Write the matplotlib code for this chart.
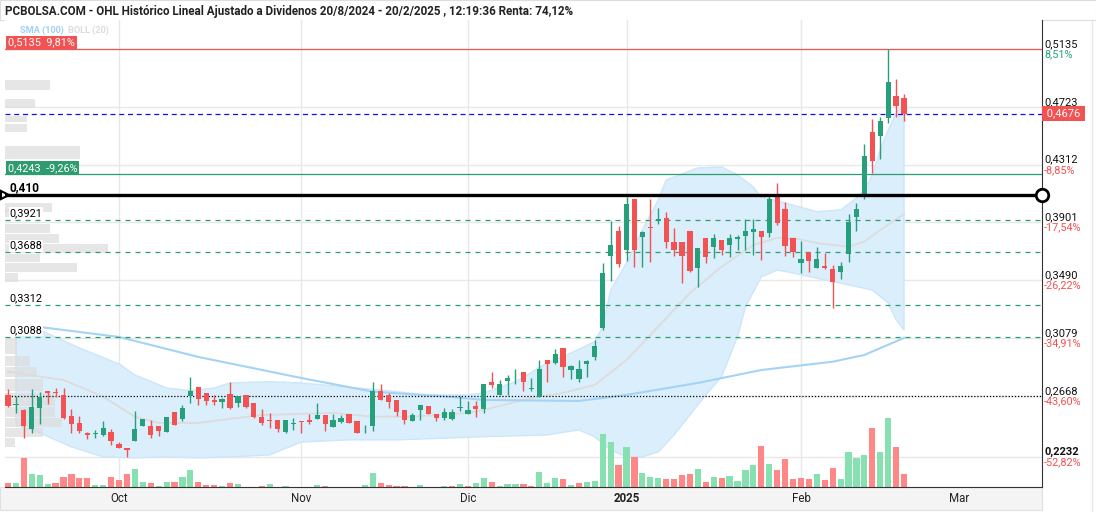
import numpy as np
import pandas as pd
import matplotlib.pyplot as plt
from matplotlib.patches import Rectangle

plt.rcParams['font.family'] = ['Roboto', 'DejaVu Sans']

# sesiones visibles 11/9/2024 - 20/2/2025
festivos = pd.to_datetime(['2024-12-25', '2024-12-26', '2025-01-01'])
fechas = pd.bdate_range('2024-09-11', '2025-02-20').drop(festivos)

opens = [0.2675, 0.2600, 0.2568, 0.2435, 0.2584, 0.2703, 0.2699, 0.2675, 0.2525, 0.2476,
         0.2404, 0.2394, 0.2390, 0.2411, 0.2326, 0.2298, 0.2348, 0.2456, 0.2454, 0.2454,
         0.2411, 0.2554, 0.2506, 0.2670, 0.2731, 0.2689, 0.2637, 0.2627, 0.2682, 0.2620,
         0.2675, 0.2618, 0.2518, 0.2497, 0.2497, 0.2411, 0.2465, 0.2490, 0.2497, 0.2504,
         0.2532, 0.2449, 0.2483, 0.2540, 0.2490, 0.2429, 0.2456, 0.2705, 0.2677, 0.2639,
         0.2568, 0.2490, 0.2568, 0.2596, 0.2540, 0.2513, 0.2504, 0.2585, 0.2542, 0.2596,
         0.2577, 0.2767, 0.2675, 0.2776, 0.2813, 0.2838, 0.2717, 0.2663, 0.2923, 0.2904,
         0.3009, 0.2854, 0.2785, 0.2897, 0.2947, 0.3153, 0.3663, 0.3841, 0.3706, 0.4068,
         0.3796, 0.3868, 0.3912, 0.3933, 0.3762, 0.3762, 0.3841, 0.3580, 0.3791, 0.3729,
         0.3777, 0.3743, 0.3784, 0.3805, 0.3836, 0.3841, 0.3829, 0.4085, 0.3997, 0.3791,
         0.3610, 0.3691, 0.3578, 0.3590, 0.3570, 0.3551, 0.3676, 0.3942, 0.4104, 0.4545,
         0.4518, 0.4646, 0.4800, 0.4786]
highs = [0.2717, 0.2667, 0.2575, 0.2717, 0.2696, 0.2705, 0.2724, 0.2724, 0.2575, 0.2525,
         0.2409, 0.2426, 0.2490, 0.2435, 0.2343, 0.2300, 0.2561, 0.2506, 0.2497, 0.2456,
         0.2520, 0.2556, 0.2606, 0.2805, 0.2733, 0.2691, 0.2672, 0.2655, 0.2767, 0.2669,
         0.2677, 0.2620, 0.2573, 0.2549, 0.2499, 0.2499, 0.2509, 0.2492, 0.2540, 0.2616,
         0.2534, 0.2540, 0.2530, 0.2542, 0.2492, 0.2461, 0.2765, 0.2751, 0.2691, 0.2641,
         0.2570, 0.2547, 0.2605, 0.2598, 0.2542, 0.2582, 0.2575, 0.2667, 0.2630, 0.2630,
         0.2755, 0.2838, 0.2781, 0.2819, 0.2857, 0.2840, 0.2795, 0.2923, 0.2925, 0.2999,
         0.3011, 0.2890, 0.2923, 0.2923, 0.3066, 0.3615, 0.3912, 0.3876, 0.4085, 0.4070,
         0.3838, 0.4068, 0.4002, 0.3978, 0.3860, 0.3764, 0.3843, 0.3722, 0.3793, 0.3819,
         0.3779, 0.3819, 0.3812, 0.3924, 0.3924, 0.3843, 0.4097, 0.4180, 0.4045, 0.3793,
         0.3766, 0.3693, 0.3725, 0.3682, 0.3597, 0.3620, 0.3961, 0.4038, 0.4457, 0.4635,
         0.4649, 0.5135, 0.4919, 0.4815]
lows = [0.2589, 0.2547, 0.2369, 0.2404, 0.2468, 0.2609, 0.2660, 0.2504, 0.2404, 0.2404,
        0.2360, 0.2369, 0.2383, 0.2317, 0.2296, 0.2232, 0.2345, 0.2452, 0.2371, 0.2385,
        0.2409, 0.2461, 0.2492, 0.2620, 0.2601, 0.2601, 0.2601, 0.2584, 0.2577, 0.2591,
        0.2584, 0.2509, 0.2463, 0.2438, 0.2411, 0.2402, 0.2426, 0.2402, 0.2466, 0.2502,
        0.2421, 0.2445, 0.2478, 0.2473, 0.2402, 0.2402, 0.2421, 0.2639, 0.2580, 0.2525,
        0.2466, 0.2488, 0.2497, 0.2536, 0.2492, 0.2493, 0.2497, 0.2559, 0.2540, 0.2516,
        0.2544, 0.2724, 0.2673, 0.2675, 0.2753, 0.2704, 0.2705, 0.2658, 0.2769, 0.2895,
        0.2805, 0.2790, 0.2767, 0.2805, 0.2920, 0.3137, 0.3487, 0.3583, 0.3629, 0.3583,
        0.3583, 0.3618, 0.3888, 0.3718, 0.3663, 0.3473, 0.3551, 0.3445, 0.3615, 0.3646,
        0.3670, 0.3658, 0.3706, 0.3706, 0.3670, 0.3634, 0.3800, 0.3883, 0.3663, 0.3654,
        0.3540, 0.3551, 0.3576, 0.3570, 0.3293, 0.3497, 0.3622, 0.3843, 0.4066, 0.4255,
        0.4353, 0.4611, 0.4653, 0.4625]
closes = [0.2598, 0.2607, 0.2456, 0.2589, 0.2660, 0.2691, 0.2689, 0.2513, 0.2470, 0.2421,
          0.2388, 0.2401, 0.2440, 0.2350, 0.2300, 0.2286, 0.2433, 0.2504, 0.2390, 0.2419,
          0.2518, 0.2463, 0.2582, 0.2703, 0.2646, 0.2634, 0.2627, 0.2646, 0.2584, 0.2667,
          0.2591, 0.2520, 0.2478, 0.2492, 0.2435, 0.2497, 0.2472, 0.2485, 0.2485, 0.2532,
          0.2465, 0.2495, 0.2511, 0.2478, 0.2407, 0.2436, 0.2705, 0.2641, 0.2625, 0.2554,
          0.2497, 0.2532, 0.2603, 0.2540, 0.2513, 0.2554, 0.2554, 0.2589, 0.2568, 0.2577,
          0.2753, 0.2748, 0.2753, 0.2795, 0.2817, 0.2769, 0.2721, 0.2859, 0.2897, 0.2966,
          0.2876, 0.2881, 0.2859, 0.2916, 0.3023, 0.3540, 0.3741, 0.3606, 0.4033, 0.3706,
          0.3836, 0.3864, 0.3926, 0.3765, 0.3706, 0.3663, 0.3558, 0.3720, 0.3658, 0.3791,
          0.3706, 0.3791, 0.3798, 0.3841, 0.3855, 0.3800, 0.4068, 0.3900, 0.3736, 0.3693,
          0.3642, 0.3629, 0.3642, 0.3580, 0.3480, 0.3592, 0.3905, 0.3997, 0.4374, 0.4340,
          0.4623, 0.4900, 0.4731, 0.4676]
# volumen (decenas de miles de titulos)
vol = [4, 3.7, 29.3, 13, 12, 3, 4, 10.3, 13, 8.7,
       8.7, 2, 2, 9.7, 6.7, 13, 17.7, 4.7, 3.7, 1,
       4.7, 5, 10, 16.7, 4.7, 2, 1.7, 1, 3.7, 2.7,
       0.5, 0.5, 1.3, 2.7, 0.5, 1, 0.5, 0.5, 0.5, 2,
       1, 0.5, 0.3, 0.5, 0.5, 2, 13.7, 4.3, 2, 1,
       1, 0.5, 1.7, 0.5, 0.3, 1, 1, 2.7, 1, 3.7,
       9, 4.7, 1, 2.7, 2.7, 2.7, 1, 14.7, 3.7, 8.7,
       7.7, 2, 3.7, 5.3, 6.3, 52.7, 44.7, 22, 40, 30.3,
       13.7, 10, 8.7, 7.7, 7.7, 12, 13, 17.7, 5, 10.3,
       8.7, 11, 5.7, 17, 22, 41, 23, 17, 28, 8,
       9.3, 8, 13, 7, 19, 8, 35, 29.3, 32, 59,
       35, 69, 40, 13]

# bandas de Bollinger (20) y SMA (100) (sesion, valor)
boll_up_i = [1, 4, 9, 14, 16, 20, 23, 26, 28, 33, 37, 41, 47, 49, 53, 58, 60, 64, 68, 71,
             74, 75, 76, 78, 80, 82, 83, 87, 90, 92, 94, 95, 98, 102, 105, 107, 108, 109,
             110, 111, 112, 113]
boll_up = [0.3151, 0.3137, 0.3009, 0.2895, 0.2817, 0.2724, 0.2705, 0.2724, 0.2760, 0.2769,
           0.2760, 0.2739, 0.2710, 0.2698, 0.2675, 0.2675, 0.2689, 0.2769, 0.2902, 0.2973,
           0.3054, 0.3160, 0.3421, 0.3613, 0.3848, 0.4061, 0.4203, 0.4289, 0.4296, 0.4239,
           0.4153, 0.4082, 0.4040, 0.3978, 0.3990, 0.4075, 0.4132, 0.4239, 0.4416, 0.4559,
           0.4680, 0.4751]
boll_lo_i = [1, 4, 8, 12, 16, 20, 24, 28, 33, 37, 43, 49, 56, 60, 68, 72, 74, 76, 78, 80,
             82, 84, 86, 88, 90, 92, 93, 95, 97, 99, 103, 106, 109, 111, 112, 113]
boll_lo = [0.2461, 0.2404, 0.2305, 0.2234, 0.2227, 0.2234, 0.2227, 0.2234, 0.2248, 0.2340,
           0.2355, 0.2355, 0.2369, 0.2378, 0.2390, 0.2426, 0.2376, 0.2283, 0.2234, 0.2234,
           0.2269, 0.2390, 0.2532, 0.2675, 0.2805, 0.3087, 0.3300, 0.3514, 0.3563, 0.3542,
           0.3492, 0.3457, 0.3421, 0.3329, 0.3208, 0.3137]
boll_mid_i = [0, 7, 12, 16, 19, 24, 32, 37, 41, 46, 51, 58, 60, 66, 70, 74, 78, 82, 86, 90,
              94, 97, 99, 102, 106, 108, 110, 113]
boll_mid = [0.2840, 0.2781, 0.2663, 0.2520, 0.2476, 0.2476, 0.2532, 0.2540, 0.2547, 0.2520,
            0.2520, 0.2547, 0.2568, 0.2653, 0.2689, 0.2746, 0.2923, 0.3160, 0.3400, 0.3587,
            0.3741, 0.3791, 0.3791, 0.3755, 0.3729, 0.3765, 0.3848, 0.3962]
sma100_i = [3, 14, 24, 37, 46, 56, 60, 72, 78, 87, 95, 104, 108, 113]
sma100 = [0.3165, 0.3087, 0.2945, 0.2795, 0.2698, 0.2660, 0.2639, 0.2632, 0.2675, 0.2760,
          0.2852, 0.2911, 0.2959, 0.3080]

# perfil de volumen por precio (precio bajo, precio alto, volumen relativo)
perfil_lo = [0.4836, 0.4715, 0.4616, 0.4545, 0.4345, 0.3940, 0.3969, 0.3826, 0.3755,
             0.3684, 0.3613, 0.3542, 0.3471, 0.2959, 0.2874, 0.2796, 0.2696, 0.2590,
             0.2511, 0.2440, 0.2369, 0.2298]
perfil_hi = [0.4921, 0.4786, 0.4658, 0.4601, 0.4452, 0.3997, 0.4040, 0.3897, 0.3826,
             0.3755, 0.3684, 0.3613, 0.3542, 0.3080, 0.2959, 0.2874, 0.2796, 0.2696,
             0.2590, 0.2511, 0.2440, 0.2369]
perfil_vol = [45, 30, 22, 22, 75, 15, 47, 45, 54, 103, 35, 72, 13, 12, 25, 32, 38, 50,
              50, 57, 38, 10]

# etiquetas del eje de precios
ticks_precio = [0.5135, 0.4723, 0.4312, 0.3901, 0.3490, 0.3079, 0.2668, 0.2232]
ticks_texto = ['0,5135', '0,4723', '0,4312', '0,3901', '0,3490', '0,3079', '0,2668', '0,2232']
ticks_pct = ['8,51%', '', '-8,85%', '-17,54%', '-26,22%', '-34,91%', '-43,60%', '-52,82%']

# niveles horizontales
niveles_verdes = [0.3921, 0.3688, 0.3312, 0.3088]
nivel_max = 0.5135
nivel_ultimo = 0.4676
nivel_verde = 0.4243
nivel_negro = 0.410
nivel_punteado = 0.2668

VERDE = '#26a07a'
ROJO = '#f25252'
VERDE_V = '#86e0b0'
ROJO_V = '#ff8787'

W, H = 1096, 512
fig = plt.figure(figsize=(W / 100, H / 100), dpi=100)
L, R, T, B = 5, 1042, 20, 487
ax = fig.add_axes([L / W, 1 - B / H, (R - L) / W, (B - T) / H])
y0, y1 = 0.2020, 0.5341
x0, x1 = -0.38, 130.4
ax.set_ylim(y0, y1)
ax.set_xlim(x0, x1)
ax.set_autoscale_on(False)
precio_px = (y1 - y0) / (B - T)
sesion_px = (x1 - x0) / (R - L)

n = len(closes)
x = np.arange(n)
o = np.array(opens); c = np.array(closes)
h = np.array(highs); lw_ = np.array(lows)
sube = c >= o

# meses
ext = pd.bdate_range('2024-09-11', '2025-03-31').drop(festivos)
ser = pd.Series(np.arange(len(ext)), index=ext)
primeros = ser.groupby([ext.year, ext.month]).first()
mes_pos = list(primeros.values[1:])
mes_txt = ['Oct', 'Nov', 'Dic', '2025', 'Feb', 'Mar']

for p in ticks_precio:
    ax.axhline(p, color='#e8e8e8', lw=1, zorder=0)
for m in mes_pos[:5]:
    ax.axvline(m, color='#e8e8e8', lw=1, zorder=0)

# Bollinger
ax.fill(np.r_[boll_up_i, boll_lo_i[::-1]], np.r_[boll_up, boll_lo[::-1]],
        color='#dbeefc', ec='#cde6fa', lw=1, zorder=1)

# perfil de volumen
for lo_, hi_, v in zip(perfil_lo, perfil_hi, perfil_vol):
    ax.barh((lo_ + hi_) / 2, v * sesion_px, height=(hi_ - lo_) * 0.9, left=x0,
            color='#dcdcdc', alpha=0.7, zorder=1.5)

ax.plot(boll_mid_i, boll_mid, color='#dcdcdc', lw=1.3, zorder=2.5)
ax.plot(sma100_i, sma100, color='#a4d3f6', lw=1.5, zorder=2.5)

# volumen
cambio = np.r_[-1, np.diff(c)]
colv = [VERDE_V if d > 0 else ROJO_V for d in cambio]
ax.bar(x, np.array(vol) * precio_px, bottom=y0, width=0.78, color=colv, zorder=2)

# velas
colc = [VERDE if s else ROJO for s in sube]
ax.vlines(x, lw_, h, color=colc, lw=1, zorder=4)
cuerpo = np.maximum(np.abs(c - o), 0.0007)
ax.bar(x, cuerpo, bottom=np.minimum(o, c), width=0.66, color=colc, zorder=5)

# niveles
ax.axhline(nivel_max, color='#e85a5a', lw=0.9, zorder=3)
ax.axhline(nivel_ultimo, color='#1010e0', lw=0.9, ls=(0, (4, 3)), zorder=3)
ax.axhline(nivel_verde, color='#2f9c70', lw=0.9, zorder=3)
for p in niveles_verdes:
    ax.axhline(p, color='#2f9c70', lw=0.9, ls=(0, (4, 4)), zorder=3)
ax.axhline(nivel_punteado, color='black', lw=0.9, ls=(0, (1, 1.5)), zorder=3)
ax.axhline(nivel_negro, color='black', lw=2.4, zorder=6)
ax.plot([x1], [nivel_negro], marker='o', ms=9, mfc='white', mec='black', mew=2,
        clip_on=False, zorder=7)
ax.plot([x0], [nivel_negro], marker='>', ms=6, mfc='none', mec='black', mew=1.5,
        clip_on=False, zorder=7)

fs = 7.8
for p, t in zip(niveles_verdes, ['0,3921', '0,3688', '0,3312', '0,3088']):
    ax.text(0.2, p + 0.0048, t, fontsize=fs, va='center', ha='left', zorder=8,
            bbox=dict(fc='white', ec='none', pad=0.6))
ax.text(0.2, nivel_negro + 0.005, '0,410', fontsize=8.6, fontweight='bold', va='center',
        ha='left', zorder=8)
ax.text(0.0, nivel_max + 0.0045, '0,5135  9,81%', fontsize=fs, color='white', va='center',
        ha='left', zorder=8, bbox=dict(fc=ROJO, ec='none', pad=1.2))
ax.text(0.0, nivel_verde + 0.0045, '0,4243  -9,26%', fontsize=fs, color='white', va='center',
        ha='left', zorder=8, bbox=dict(fc='#2f9c70', ec='none', pad=1.2))

# eje derecho
for p, t, pc in zip(ticks_precio, ticks_texto, ticks_pct):
    ax.text(1.002, p + 0.0036, t, transform=ax.get_yaxis_transform(), fontsize=8,
            va='center', ha='left', color='#111111',
            fontweight='bold' if p == 0.2232 else 'normal')
    if pc:
        ax.text(1.002, p - 0.0036, pc, transform=ax.get_yaxis_transform(), fontsize=fs,
                va='center', ha='left', color=VERDE if not pc.startswith('-') else ROJO)
ax.text(1.002, nivel_ultimo, ' 0,4676 ', transform=ax.get_yaxis_transform(), fontsize=8,
        color='white', va='center', ha='left', zorder=8,
        bbox=dict(fc=ROJO, ec='none', pad=1.5))

ax.set_xticks([])
ax.set_yticks([])
for s in ['top', 'left']:
    ax.spines[s].set_visible(False)
ax.spines['right'].set_color('#333333')
ax.spines['bottom'].set_color('#333333')

# banda del eje x
fig.patches.append(Rectangle((0, 2 / H), R / W, (510 - B) / H, transform=fig.transFigure,
                             fc='#f4f4f4', ec='#e0e0e0', lw=0.8, zorder=-1))
for m, t in zip(mes_pos, mes_txt):
    ax.text(m, -0.025, t, transform=ax.get_xaxis_transform(), fontsize=8.3, ha='center',
            va='center', fontweight='bold' if t == '2025' else 'normal', color='#222222')

# cabecera
fig.patches.append(Rectangle((0, 1 - 20 / H), 1, 20 / H, transform=fig.transFigure,
                             fc='white', ec='#dddddd', lw=0.8, zorder=-1))
fig.text(5 / W, 1 - 11 / H, 'PCBOLSA.COM - OHL Histórico Lineal Ajustado a Dividenos '
         '20/8/2024 - 20/2/2025 , 12:19:36 Renta: 74,12%', fontsize=8.4, fontweight='bold',
         va='center', ha='left', color='#222222')
fig.text(20 / W, 1 - 30 / H, 'SMA (100)', fontsize=6.6, color='#9fcff5', fontweight='bold',
         va='center')
fig.text(68 / W, 1 - 30 / H, 'BOLL (20)', fontsize=6.6, color='#dcdcdc', fontweight='bold',
         va='center')
fig.add_artist(plt.Line2D([1092 / W] * 2, [0, 1 - 20 / H], transform=fig.transFigure,
                          color='#e6e6e6', lw=1))

fig.savefig('out.png', dpi=100)
